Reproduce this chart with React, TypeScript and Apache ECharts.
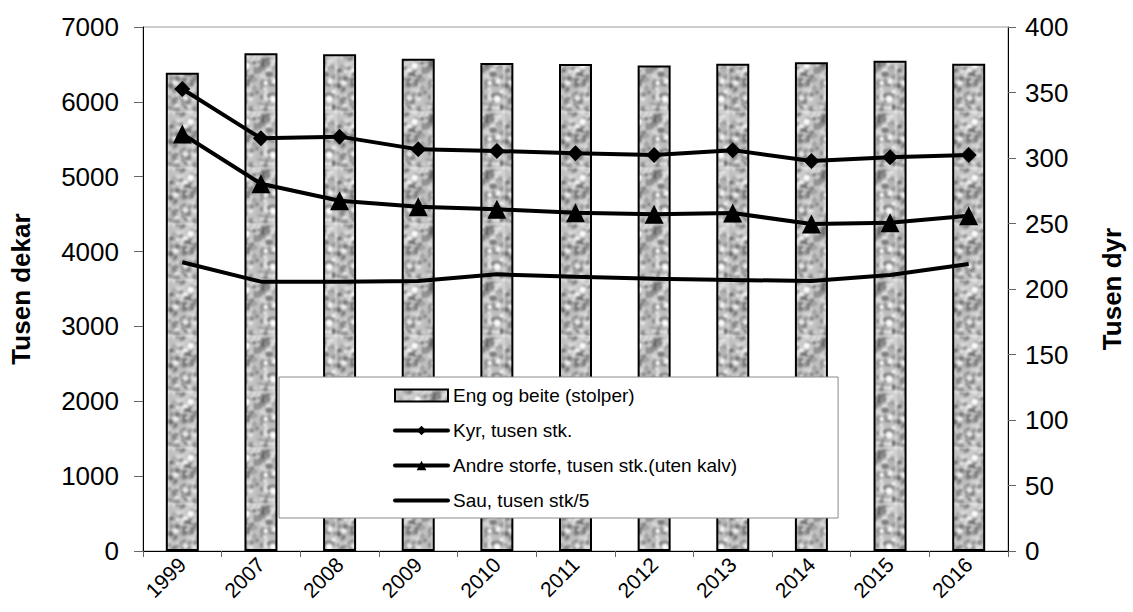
import React, { useEffect, useRef } from "react";
import * as echarts from "echarts";

const years = ["1999", "2007", "2008", "2009", "2010", "2011", "2012", "2013", "2014", "2015", "2016"];
const engOgBeite = [6390, 6650, 6635, 6575, 6520, 6505, 6485, 6510, 6530, 6550, 6510];
const kyr = [352.7, 315, 316.3, 306.6, 305.3, 303.6, 302.3, 306, 297.7, 300.5, 302.3];
const andreStorfe = [318.3, 280.4, 267.4, 262.8, 260.8, 258.3, 257.1, 258, 249.6, 250.6, 256];
const sau = [220.4, 205.6, 205.6, 206.1, 211.2, 209.4, 207.9, 206.9, 206.1, 210.7, 219.1];

const leftTicks = { min: 0, max: 7000, interval: 1000 };
const rightTicks = { min: 0, max: 400, interval: 50 };

const names = {
  bar: "Eng og beite (stolper)",
  kyr: "Kyr, tusen stk.",
  andre: "Andre storfe, tusen stk.(uten kalv)",
  sau: "Sau, tusen stk/5",
};

const FONT = "'Liberation Sans', Arial, sans-serif";

function makeTexture(): HTMLCanvasElement {
  const size = 56;
  const base = document.createElement("canvas");
  base.width = size;
  base.height = size;
  const ctx = base.getContext("2d")!;
  ctx.fillStyle = "#c0c0c0";
  ctx.fillRect(0, 0, size, size);
  let s = 987654321;
  const rnd = () => {
    s = (Math.imul(s, 1103515245) + 12345) >>> 0;
    return (s & 0x7fffffff) / 0x7fffffff;
  };
  for (let i = 0; i < 260; i++) {
    const x = rnd() * size;
    const y = rnd() * size;
    const r = 1 + rnd() * 2.4;
    const g = Math.round(100 + rnd() * 155);
    ctx.fillStyle = `rgb(${g},${g},${g})`;
    for (const dx of [-size, 0, size]) {
      for (const dy of [-size, 0, size]) {
        ctx.beginPath();
        ctx.arc(x + dx, y + dy, r, 0, Math.PI * 2);
        ctx.fill();
      }
    }
  }
  const out = document.createElement("canvas");
  out.width = size;
  out.height = size;
  const o = out.getContext("2d")!;
  try {
    (o as any).filter = "blur(0.9px)";
  } catch (e) {}
  for (const dx of [-size, 0, size]) {
    for (const dy of [-size, 0, size]) {
      o.drawImage(base, dx, dy);
    }
  }
  return out;
}

export default function App() {
  const ref = useRef<HTMLDivElement>(null);
  useEffect(() => {
    if (!ref.current) return;
    const chart = echarts.init(ref.current, undefined, { renderer: "svg" });
    const pattern = { image: makeTexture(), repeat: "repeat" };
    chart.setOption({
      animation: false,
      backgroundColor: "#ffffff",
      textStyle: { fontFamily: FONT },
      grid: {
        left: 141,
        right: 117,
        top: 27,
        bottom: 61,
        show: true,
        borderColor: "#9a9a9a",
        borderWidth: 1,
      },
      legend: {
        orient: "vertical",
        left: 279,
        top: 377,
        padding: [9, 101, 8, 114],
        itemWidth: 53,
        itemHeight: 12,
        itemGap: 16,
        backgroundColor: "#ffffff",
        borderColor: "#8a8a8a",
        borderWidth: 1,
        lineStyle: { width: 4, color: "#000", cap: "round" },
        textStyle: { fontFamily: FONT, fontSize: 19, color: "#000" },
        data: [
          { name: names.bar, icon: "rect" },
          { name: names.kyr },
          { name: names.andre },
          { name: names.sau, itemStyle: { opacity: 0 } },
        ],
      },
      xAxis: {
        type: "category",
        data: years,
        boundaryGap: true,
        axisLine: { lineStyle: { color: "#000", width: 1 } },
        axisTick: { show: true, interval: 0, length: 6, lineStyle: { color: "#666" } },
        axisLabel: {
          rotate: 45,
          fontSize: 21,
          color: "#000",
          fontFamily: FONT,
          margin: 10,
          interval: 0,
        },
      },
      yAxis: [
        {
          type: "value",
          ...leftTicks,
          name: "Tusen dekar",
          nameLocation: "middle",
          nameRotate: 90,
          nameGap: 109,
          nameTextStyle: { fontSize: 26, fontWeight: "bold", color: "#000", fontFamily: FONT },
          axisLine: { show: true, lineStyle: { color: "#000" } },
          axisTick: { show: true, length: 9, lineStyle: { color: "#666" } },
          axisLabel: {
            fontSize: 26,
            color: "#000",
            margin: 24,
            fontFamily: FONT,
            formatter: (v: number) => String(v),
          },
          splitLine: { show: false },
        },
        {
          type: "value",
          ...rightTicks,
          position: "right",
          name: "Tusen dyr",
          nameLocation: "middle",
          nameRotate: 90,
          nameGap: 91,
          nameTextStyle: { fontSize: 26, fontWeight: "bold", color: "#000", fontFamily: FONT },
          axisLine: { show: true, lineStyle: { color: "#000" } },
          axisTick: { show: true, length: 8, lineStyle: { color: "#666" } },
          axisLabel: {
            fontSize: 26,
            color: "#000",
            margin: 17,
            fontFamily: FONT,
            formatter: (v: number) => String(v),
          },
          splitLine: { show: false },
        },
      ],
      series: [
        {
          name: names.bar,
          type: "bar",
          yAxisIndex: 0,
          data: engOgBeite,
          barWidth: 33,
          itemStyle: { color: pattern, borderColor: "#000", borderWidth: 2 },
          z: 2,
        },
        {
          name: names.kyr,
          type: "line",
          yAxisIndex: 1,
          data: kyr,
          symbol: "diamond",
          symbolSize: 16,
          lineStyle: { color: "#000", width: 4 },
          itemStyle: { color: "#000" },
          z: 5,
        },
        {
          name: names.andre,
          type: "line",
          yAxisIndex: 1,
          data: andreStorfe,
          symbol: "triangle",
          symbolSize: 19,
          lineStyle: { color: "#000", width: 4 },
          itemStyle: { color: "#000" },
          z: 5,
        },
        {
          name: names.sau,
          type: "line",
          yAxisIndex: 1,
          data: sau,
          symbol: "none",
          lineStyle: { color: "#000", width: 4 },
          itemStyle: { color: "#000" },
          z: 5,
        },
      ],
    });
    return () => chart.dispose();
  }, []);
  return (
    <div
      ref={ref}
      style={{ position: "fixed", left: 0, top: 0, width: 1133, height: 612 }}
    />
  );
}
